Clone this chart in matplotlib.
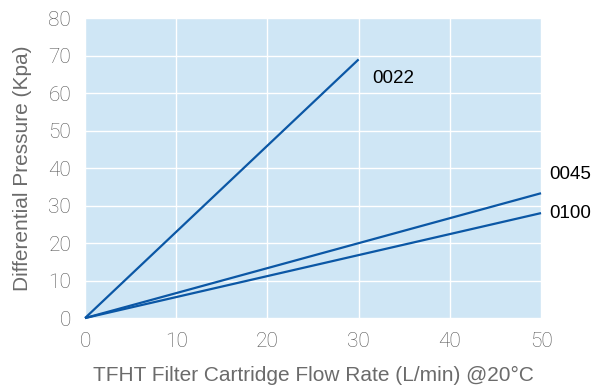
import matplotlib
matplotlib.use("Agg")
import matplotlib.pyplot as plt

# Pressure drop vs. flow rate for each cartridge grade
flow_0022 = [0, 30]
dp_0022 = [0, 69]
flow_0045 = [0, 50]
dp_0045 = [0, 33.3]
flow_0100 = [0, 50]
dp_0100 = [0, 28]

series = [
    ("0022", flow_0022, dp_0022),
    ("0045", flow_0045, dp_0045),
    ("0100", flow_0100, dp_0100),
]
label_pos = {"0022": (31.5, 64.0), "0045": (50.9, 38.3), "0100": (50.9, 27.9)}

x_ticks = [0, 10, 20, 30, 40, 50]
y_ticks = [0, 10, 20, 30, 40, 50, 60, 70, 80]

LINE = "#0b57a5"
BG = "#cfe6f5"
GREY = "#6b6b6b"

fig = plt.figure(figsize=(5.95, 3.86), dpi=100)
ax = fig.add_axes([0.1429, 0.176, 0.7664, 0.777])
ax.set_facecolor(BG)

for name, xs, ys in series:
    ax.plot(xs, ys, color=LINE, lw=1.6, solid_capstyle="butt", clip_on=False)
    lx, ly = label_pos[name]
    ax.text(lx, ly, name, fontsize=13.5, color="black", va="center", ha="left",
            family="Liberation Sans", clip_on=False)

ax.set_xlim(0, 50)
ax.set_ylim(0, 80)
ax.set_xticks(x_ticks)
ax.set_yticks(y_ticks)
ax.grid(True, color="white", lw=1.0)
ax.set_axisbelow(True)
for s in ax.spines.values():
    s.set_visible(False)

ax.tick_params(length=0, labelsize=15, labelcolor="#555555", pad=10)
for lab in ax.get_xticklabels() + ax.get_yticklabels():
    lab.set_fontfamily("Roboto")
    lab.set_fontweight("light")

ax.set_xlabel("TFHT Filter Cartridge Flow Rate (L/min) @20°C", fontsize=15,
              color=GREY, family="Liberation Sans", labelpad=11)
ax.set_ylabel("Differential Pressure (Kpa)", fontsize=15, color=GREY,
              family="Liberation Sans", labelpad=12)

fig.savefig("out.png", dpi=100)
